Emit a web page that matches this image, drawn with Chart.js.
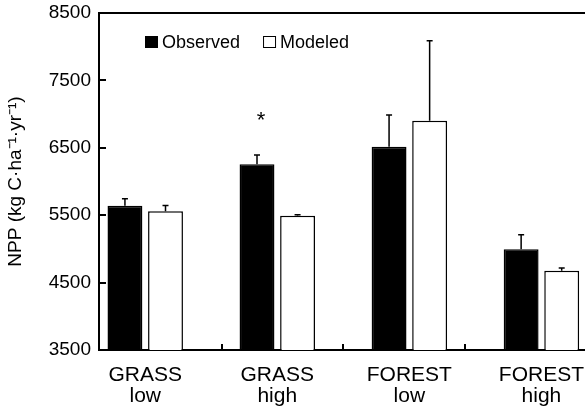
<!DOCTYPE html>
<html>
<head>
<meta charset="utf-8">
<script src="https://cdn.jsdelivr.net/npm/chart.js@4"></script>
<style>
  html, body { margin: 0; padding: 0; background: #fff; }
  #wrap { width: 585px; height: 406px; }
</style>
</head>
<body>
<div id="wrap"><canvas id="graficoNPP" width="585" height="406"></canvas></div>
<script>
// Sites (categoria + nivel)
const sitios = [['GRASS', 'low'], ['GRASS', 'high'], ['FOREST', 'low'], ['FOREST', 'high']];
// NPP (kg C ha-1 yr-1)
const observado = [5640, 6255, 6515, 4995];
const erroObservado = [105, 140, 470, 215];
const modelado = [5560, 5490, 6900, 4675];
const erroModelado = [85, 15, 1190, 40];
const significancia = ['', '*', '', ''];
const yTicks = [3500, 4500, 5500, 6500, 7500, 8500];
// divisores entre grupos (em unidades do eixo x)
const divisores = [0.583, 1.5, 2.424];

const fonte = "'Liberation Sans', Arial, Helvetica, sans-serif";
Chart.defaults.font.family = fonte;
Chart.defaults.color = '#000';

const xMin = -0.35;
const xMax = 3.33;

// barras de erro + asterisco
const barrasDeErro = {
  id: 'barrasDeErro',
  afterDatasetsDraw(chart) {
    const { ctx } = chart;
    const y = chart.scales.y;
    const erros = [erroObservado, erroModelado];
    ctx.save();
    ctx.strokeStyle = '#000';
    ctx.lineWidth = 1.5;
    chart.data.datasets.forEach((ds, d) => {
      chart.getDatasetMeta(d).data.forEach((barra, i) => {
        const topo = y.getPixelForValue(ds.data[i].y + erros[d][i]);
        ctx.beginPath();
        ctx.moveTo(barra.x, barra.y);
        ctx.lineTo(barra.x, topo);
        ctx.moveTo(barra.x - 3, topo);
        ctx.lineTo(barra.x + 3, topo);
        ctx.stroke();
        if (d === 0 && significancia[i]) {
          ctx.fillStyle = '#000';
          ctx.font = '22px ' + fonte;
          ctx.textAlign = 'center';
          ctx.textBaseline = 'alphabetic';
          ctx.fillText(significancia[i], barra.x + 4, topo - 28);
        }
      });
    });
    ctx.restore();
  }
};

// legenda dentro da area do grafico
const legendaInterna = {
  id: 'legendaInterna',
  afterDraw(chart) {
    const { ctx, chartArea } = chart;
    ctx.save();
    ctx.font = '18px ' + fonte;
    ctx.textBaseline = 'alphabetic';
    ctx.textAlign = 'left';
    let x = chartArea.left + 46;
    const yCaixa = chartArea.top + 23;
    chart.data.datasets.forEach(ds => {
      ctx.fillStyle = ds.backgroundColor;
      ctx.fillRect(x, yCaixa, 13, 12);
      ctx.strokeStyle = '#000';
      ctx.lineWidth = 1;
      ctx.strokeRect(x + 0.5, yCaixa + 0.5, 12, 11);
      ctx.fillStyle = '#000';
      ctx.fillText(ds.label, x + 17, yCaixa + 12);
      x += 17 + ctx.measureText(ds.label).width + 23;
    });
    ctx.restore();
  }
};

const semPadding = s => { s.paddingLeft = 0; s.paddingRight = 0; s.paddingTop = 0; s.paddingBottom = 0; };

const ctxNPP = document.getElementById('graficoNPP').getContext('2d');
new Chart(ctxNPP, {
  type: 'bar',
  data: {
    datasets: [{
      label: 'Observed',
      data: observado.map((v, i) => ({ x: i, y: v })),
      backgroundColor: '#000',
      borderColor: '#000',
      borderWidth: 1.5,
      categoryPercentage: 0.67,
      barPercentage: 0.86
    }, {
      label: 'Modeled',
      data: modelado.map((v, i) => ({ x: i, y: v })),
      backgroundColor: '#fff',
      borderColor: '#000',
      borderWidth: 1.5,
      categoryPercentage: 0.67,
      barPercentage: 0.86
    }]
  },
  options: {
    responsive: false,
    animation: false,
    devicePixelRatio: 1,
    layout: { padding: { top: 13, right: 0, bottom: 0, left: 0 } },
    plugins: { legend: { display: false }, tooltip: { enabled: false } },
    scales: {
      // marcas divisorias entre grupos, coladas ao eixo
      xDiv: {
        type: 'linear',
        position: 'bottom',
        weight: 0,
        offset: false,
        min: xMin,
        max: xMax,
        afterBuildTicks: s => { s.ticks = divisores.map(v => ({ value: v })); },
        afterFit: s => { s.height = 0; semPadding(s); },
        grid: { drawOnChartArea: false, offset: false, tickLength: -6, lineWidth: 2, color: '#000' },
        border: { display: false },
        ticks: { autoSkip: false, maxRotation: 0, padding: 0, callback: () => '' }
      },
      x: {
        type: 'linear',
        position: 'bottom',
        weight: 1,
        offset: false,
        min: xMin,
        max: xMax,
        afterBuildTicks: s => { s.ticks = sitios.map((_, i) => ({ value: i })); },
        afterFit: s => { s.height = 56; semPadding(s); },
        grid: { display: false, offset: false, drawTicks: false },
        border: { color: '#000', width: 2 },
        ticks: {
          autoSkip: false,
          maxRotation: 0,
          padding: 14,
          color: '#000',
          font: { size: 21, lineHeight: 1.02 },
          callback: v => sitios[v]
        }
      },
      y: {
        min: 3500,
        max: 8500,
        afterBuildTicks: s => { s.ticks = yTicks.map(v => ({ value: v })); },
        afterFit: s => { s.width = 99; semPadding(s); },
        grid: {
          drawOnChartArea: true,
          tickLength: -7,
          lineWidth: 2,
          tickColor: '#000',
          color: c => (c.tick && c.tick.value === yTicks[yTicks.length - 1]) ? '#000' : 'rgba(0,0,0,0)'
        },
        border: { color: '#000', width: 2 },
        ticks: { padding: 15, color: '#000', font: { size: 19 }, callback: v => String(v) },
        title: {
          display: true,
          text: 'NPP (kg C·ha⁻¹·yr⁻¹)',
          color: '#000',
          font: { size: 19 },
          padding: { top: 4, bottom: 0 }
        }
      }
    }
  },
  plugins: [barrasDeErro, legendaInterna]
});
</script>
</body>
</html>
